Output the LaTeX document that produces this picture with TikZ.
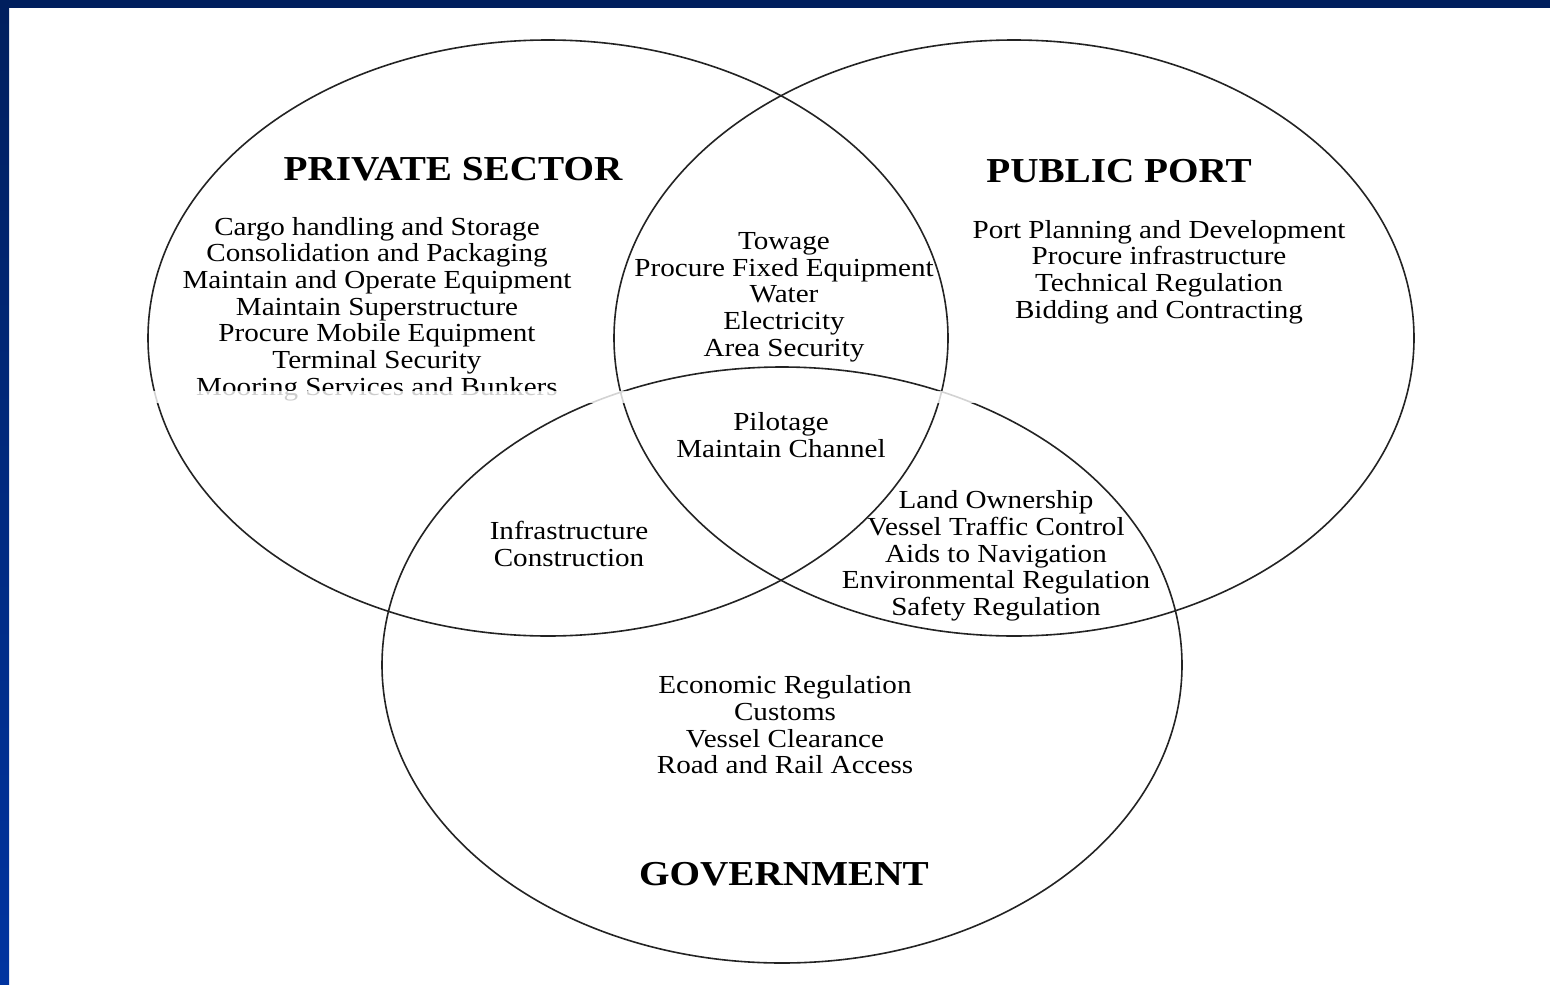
\documentclass[tikz,border=0pt]{standalone}
\usepackage{fontspec}
\setmainfont{Liberation Serif}[FakeStretch=1.12]
\usepackage{tikz}
\usetikzlibrary{shapes.geometric,positioning}
\definecolor{navy}{RGB}{0,31,94}
\definecolor{slideblue}{RGB}{0,52,160}
\definecolor{ink}{RGB}{35,35,35}

\begin{document}
\begin{tikzpicture}[x=1pt, y=-1pt, thick,
        venn/.style={ellipse, draw=ink, line width=1.6pt, minimum width=800pt, minimum height=596pt},
        heading/.style={font=\fontsize{35}{38}\selectfont\bfseries, text=black},
        duties/.style={align=center, font=\fontsize{26}{26.7}\selectfont, text=black, inner sep=0pt}]

    % slide frame
    \useasboundingbox (0,0) rectangle (1550,985);
    \fill[white] (0,0) rectangle (1550,985);
    \shade[top color=navy, bottom color=slideblue] (0,0) rectangle (9,985);
    \fill[navy] (0,0) rectangle (1550,8);

    % the three sectors
    \node [venn] (private) at (548,338) {};
    \node [venn] (public) at (1014,338) {};
    \node [venn] (gov) at (782,665) {};

    \node [heading] (privtitle) at (453,169) {PRIVATE SECTOR};
    \node [heading] (pubtitle) at (1119,171) {PUBLIC PORT};
    \node [heading] (govtitle) at (784,874) {GOVERNMENT};

    \node [duties] (privlist) at (377,309) {Cargo handling and Storage\\ Consolidation and Packaging\\ Maintain and Operate Equipment\\ Maintain Superstructure\\ Procure Mobile Equipment\\ Terminal Security\\ Mooring Services and Bunkers};
    \node [duties] (publist) at (1159,272) {Port Planning and Development\\ Procure infrastructure\\ Technical Regulation\\ Bidding and Contracting};
    \node [duties] (shared) at (784,297) {Towage\\ Procure Fixed Equipment\\ Water\\ Electricity\\ Area Security};
    \node [duties] (allthree) at (781,435) {Pilotage\\ Maintain Channel};
    \node [duties] (privgov) at (569,544) {Infrastructure\\ Construction};
    \node [duties] (pubgov) at (996,556) {Land Ownership\\ Vessel Traffic Control\\ Aids to Navigation\\ Environmental Regulation\\ Safety Regulation};
    \node [duties] (govlist) at (785,725) {Economic Regulation\\ Customs\\ Vessel Clearance\\ Road and Rail Access};

    % washed out strip across the last line
    \fill[white, opacity=0.8] (150,391) rectangle (1000,403);
\end{tikzpicture}
\end{document}
